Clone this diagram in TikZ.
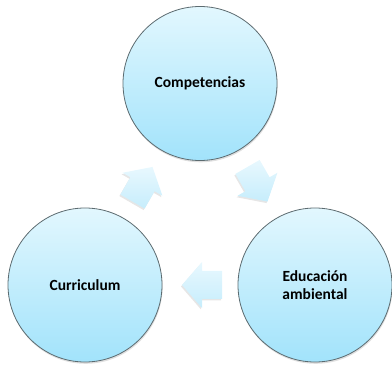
\documentclass[tikz,border=0pt]{standalone}
\usepackage{fontspec}
\setmainfont{Carlito}
\usepackage{tikz}
\usetikzlibrary{shadows}
\usetikzlibrary{calc}

\definecolor{cieloclaro}{HTML}{E2F7FE}
\definecolor{cielo}{HTML}{A2E3FB}
\definecolor{borde}{HTML}{5C6B70}
\definecolor{flechaclaro}{HTML}{E8F8FE}
\definecolor{flechaosc}{HTML}{C6EDFC}

\tikzset{etapa/.style={circle, minimum size=154pt, inner sep=0pt, draw=borde, line width=0.8pt,
  top color=cieloclaro, bottom color=cielo,
  drop shadow={opacity=0.25, shadow xshift=0.6pt, shadow yshift=-1.8pt},
  font=\fontsize{15.5}{18.5}\selectfont\bfseries, align=center}}
\tikzset{flecha/.style={top color=flechaclaro, bottom color=flechaosc,
  drop shadow={opacity=0.2, shadow xshift=-1pt, shadow yshift=-1.5pt}}}
\newcommand{\bloqueflecha}{(-20,-14) -- (0,-14) -- (0,-23) -- (20,0) -- (0,23) -- (0,14) -- (-20,14) -- cycle}

\begin{document}
\begin{tikzpicture}[x=1pt,y=1pt]
\useasboundingbox (0,0) rectangle (392,365);
\node[etapa] (comp) at (200,281.5) {Competencias};
\node[etapa] (curr) at (85,80) {Curriculum};
\node[etapa] (edu) at (315,80) {Educación\\ambiental};
% flechas del ciclo
\coordinate (f1) at ($(curr)!0.5!(comp)$);
\coordinate (f2) at ($(comp)!0.5!(edu)$);
\coordinate (f3) at ($(edu)!0.5!(curr)+(2,0)$);
\shade[flecha, shift={(f1)}, rotate=60] \bloqueflecha;
\shade[flecha, shift={(f2)}, rotate=-60] \bloqueflecha;
\shade[flecha, shift={(f3)}, rotate=180] \bloqueflecha;
\end{tikzpicture}
\end{document}
